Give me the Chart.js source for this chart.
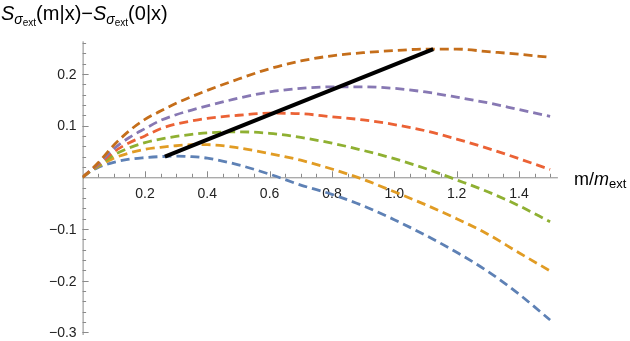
<!DOCTYPE html>
<html>
<head>
<meta charset="utf-8">
<script src="https://cdn.jsdelivr.net/npm/chart.js@4.4.0/dist/chart.umd.min.js"></script>
<style>
  body { margin: 0; background: #fff; }
  canvas { display: block; }
</style>
</head>
<body>
<canvas id="entropyChart" width="630" height="341"></canvas>
<script>
// m/m_ext sample points
const mValues = [0, 0.025, 0.05, 0.1, 0.15, 0.2, 0.25, 0.3, 0.35, 0.4, 0.5, 0.6, 0.7, 0.8, 0.9, 1.0, 1.1, 1.2, 1.3, 1.4, 1.5];

// S(m|x) - S(0|x), one array per curve
const seriesBlue   = [0, 0.011, 0.019, 0.029, 0.035, 0.038, 0.040, 0.041, 0.040, 0.037, 0.024, 0.006, -0.015, -0.033, -0.055, -0.082, -0.112, -0.145, -0.182, -0.226, -0.276];
const seriesOrange = [0, 0.012, 0.021, 0.037, 0.047, 0.054, 0.058, 0.061, 0.063, 0.063, 0.057, 0.046, 0.033, 0.016, -0.004, -0.028, -0.053, -0.080, -0.110, -0.146, -0.181];
const seriesGreen  = [0, 0.012, 0.022, 0.043, 0.057, 0.067, 0.074, 0.079, 0.083, 0.086, 0.088, 0.085, 0.077, 0.066, 0.052, 0.036, 0.017, -0.005, -0.028, -0.055, -0.086];
const seriesRed    = [0, 0.013, 0.024, 0.049, 0.067, 0.080, 0.094, 0.103, 0.109, 0.114, 0.120, 0.124, 0.123, 0.117, 0.111, 0.102, 0.090, 0.074, 0.056, 0.036, 0.015];
const seriesPurple = [0, 0.013, 0.026, 0.055, 0.077, 0.094, 0.110, 0.121, 0.130, 0.138, 0.153, 0.165, 0.172, 0.175, 0.175, 0.172, 0.165, 0.155, 0.144, 0.131, 0.118];
const seriesBrown  = [0, 0.013, 0.028, 0.062, 0.090, 0.112, 0.128, 0.143, 0.156, 0.168, 0.190, 0.210, 0.225, 0.235, 0.241, 0.245, 0.248, 0.248, 0.243, 0.238, 0.232];

// line through the maxima
const maxLineM = [0.264, 1.125];
const maxLineS = [0.040, 0.248];

// ticks
const xTicks = [0.2, 0.4, 0.6, 0.8, 1.0, 1.2, 1.4];
const yTicks = [-0.3, -0.2, -0.1, 0.1, 0.2];

const colors = ['#5E81B5', '#E19C24', '#8FB032', '#EB6235', '#8778B3', '#C56E1A'];
const allSeries = [seriesBlue, seriesOrange, seriesGreen, seriesRed, seriesPurple, seriesBrown];

function toPoints(xs, ys) {
    return xs.map((x, i) => ({ x: x, y: ys[i] }));
}

const datasets = allSeries.map((s, i) => ({
    data: toPoints(mValues, s),
    borderColor: colors[i],
    borderWidth: 2.8,
    borderDash: [9, 5],
    pointRadius: 0,
    cubicInterpolationMode: 'monotone',
    fill: false,
    order: 10 - i
}));

datasets.push({
    data: toPoints(maxLineM, maxLineS),
    borderColor: '#000',
    borderWidth: 4,
    pointRadius: 0,
    fill: false,
    order: 0
});

// draw a run of text pieces with different fonts/offsets
function drawPieces(ctx, x, y, pieces) {
    pieces.forEach(p => {
        ctx.font = p[1];
        ctx.fillText(p[0], x, y + p[2]);
        x += ctx.measureText(p[0]).width;
    });
}

const fmt = v => (v < 0 ? '\u2212' : '') + Math.abs(v).toFixed(1);

const mathAxes = {
    id: 'mathAxes',
    beforeDatasetsDraw(chart) {
        const ctx = chart.ctx;
        const xs = chart.scales.x, ys = chart.scales.y;
        const x0 = xs.getPixelForValue(0), y0 = ys.getPixelForValue(0);
        ctx.save();
        ctx.strokeStyle = '#8a8a8a';
        ctx.lineWidth = 1;
        ctx.beginPath();
        ctx.moveTo(xs.left, y0 + 0.5); ctx.lineTo(xs.right, y0 + 0.5);
        ctx.moveTo(x0 + 0.5, ys.top); ctx.lineTo(x0 + 0.5, ys.bottom);
        // minor + major ticks on x
        for (let k = 1; k * 0.05 <= xs.max + 1e-9; k++) {
            const px = Math.round(xs.getPixelForValue(k * 0.05)) + 0.5;
            const len = k % 4 === 0 ? 6 : 3.5;
            ctx.moveTo(px, y0); ctx.lineTo(px, y0 - len);
        }
        // minor + major ticks on y
        for (let k = -15; k <= 13; k++) {
            if (k === 0) continue;
            const v = k * 0.02;
            if (v < ys.min || v > ys.max) continue;
            const py = Math.round(ys.getPixelForValue(v)) + 0.5;
            ctx.moveTo(x0, py); ctx.lineTo(x0 + 3.5, py);
        }
        yTicks.forEach(v => {
            const py = Math.round(ys.getPixelForValue(v)) + 0.5;
            ctx.moveTo(x0, py); ctx.lineTo(x0 + 6, py);
        });
        ctx.stroke();

        ctx.fillStyle = '#222';
        ctx.font = '14px "Liberation Sans", Arial, sans-serif';
        ctx.textAlign = 'center';
        ctx.textBaseline = 'alphabetic';
        xTicks.forEach(v => ctx.fillText(v.toFixed(1), xs.getPixelForValue(v), y0 + 21));
        ctx.textAlign = 'right';
        ctx.textBaseline = 'middle';
        yTicks.forEach(v => ctx.fillText(fmt(v), x0 - 6, ys.getPixelForValue(v) + 1));

        // axis labels
        ctx.fillStyle = '#000';
        ctx.textAlign = 'left';
        ctx.textBaseline = 'alphabetic';
        const f = '"Liberation Sans", Arial, sans-serif';
        drawPieces(ctx, 1, 20, [
            ['S', 'italic 20px ' + f, 0],
            ['\u03c3', 'italic 14px ' + f, 4],
            ['ext', '10px ' + f, 6],
            ['(m|x)\u2212', '20px ' + f, 0],
            ['S', 'italic 20px ' + f, 0],
            ['\u03c3', 'italic 14px ' + f, 4],
            ['ext', '10px ' + f, 6],
            ['(0|x)', '20px ' + f, 0]
        ]);
        drawPieces(ctx, 574, 185, [
            ['m/', '18px ' + f, 0],
            ['m', 'italic 18px ' + f, 0],
            ['ext', '13px ' + f, 3]
        ]);
        ctx.restore();
    }
};

const ctx = document.getElementById('entropyChart').getContext('2d');
new Chart(ctx, {
    type: 'line',
    data: { datasets: datasets },
    options: {
        responsive: false,
        animation: false,
        layout: { padding: { left: 82.6, right: 72.1, top: 41.3, bottom: 6 } },
        plugins: { legend: { display: false }, tooltip: { enabled: false } },
        scales: {
            x: { type: 'linear', min: 0, max: 1.525, display: false },
            y: { type: 'linear', min: -0.305, max: 0.263, display: false }
        }
    },
    plugins: [mathAxes]
});
</script>
</body>
</html>
